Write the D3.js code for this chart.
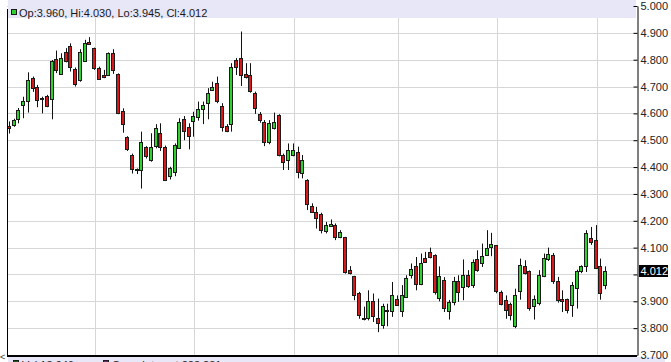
<!DOCTYPE html>
<html>
<head>
<meta charset="utf-8">
<script src="https://cdn.jsdelivr.net/npm/d3@7"></script>
<style>
  html, body { margin: 0; padding: 0; background: #fff; }
  svg { display: block; font-family: "Liberation Sans", Arial, sans-serif; }
</style>
</head>
<body>
<svg id="chart" width="671" height="362"></svg>
<script>
// daily candles, oldest first
var opens = [4.552,4.556,4.580,4.630,4.646,4.731,4.700,4.656,4.664,4.654,4.802,4.750,4.827,4.851,4.766,4.722,4.797,4.866,4.843,4.768,
  4.742,4.743,4.824,4.747,4.609,4.511,4.445,4.393,4.386,4.473,4.426,4.476,4.526,4.476,4.364,4.385,4.473,4.578,4.550,4.572,
  4.585,4.615,4.638,4.690,4.712,4.628,4.553,4.560,4.799,4.806,4.747,4.743,4.675,4.597,4.567,4.491,4.548,4.594,4.445,4.426,
  4.445,4.455,4.377,4.351,4.254,4.233,4.224,4.165,4.181,4.184,4.140,4.140,4.018,3.993,3.930,3.838,3.839,3.900,3.839,3.813,
  3.866,3.864,3.907,3.866,3.919,3.997,4.030,3.966,4.063,4.082,4.072,3.913,3.981,3.866,3.898,3.976,3.954,3.997,3.960,4.059,
  4.044,4.075,4.103,4.108,3.935,3.904,3.889,3.808,3.940,4.030,4.012,3.885,3.891,3.997,4.055,4.072,3.975,3.907,3.907,3.885,
  3.947,4.012,4.030,4.134,4.130,4.030,3.960];
var highs = [4.570,4.580,4.620,4.662,4.753,4.737,4.706,4.662,4.669,4.799,4.834,4.824,4.843,4.861,4.771,4.839,4.874,4.884,4.845,4.774,
  4.762,4.827,4.839,4.749,4.619,4.515,4.450,4.395,4.532,4.478,4.526,4.560,4.563,4.480,4.401,4.488,4.582,4.590,4.563,4.606,
  4.644,4.644,4.694,4.718,4.737,4.638,4.560,4.787,4.806,4.905,4.787,4.787,4.681,4.605,4.575,4.575,4.603,4.597,4.450,4.488,
  4.488,4.476,4.445,4.355,4.265,4.252,4.230,4.196,4.205,4.190,4.165,4.140,4.031,3.995,3.935,3.880,3.941,3.929,3.910,3.891,
  3.891,3.972,3.922,3.960,3.997,4.041,4.065,4.078,4.084,4.100,4.075,4.030,3.990,3.905,3.991,3.997,4.056,4.016,4.056,4.090,
  4.115,4.165,4.155,4.110,3.940,3.922,3.895,3.947,4.059,4.053,4.015,3.922,4.016,4.078,4.100,4.080,3.991,3.941,3.910,3.972,
  4.018,4.034,4.165,4.177,4.184,4.059,4.030];
var lows = [4.525,4.550,4.563,4.582,4.603,4.680,4.623,4.600,4.623,4.578,4.750,4.747,4.790,4.756,4.700,4.718,4.793,4.855,4.762,4.725,
  4.731,4.742,4.747,4.597,4.528,4.460,4.376,4.374,4.320,4.432,4.420,4.470,4.460,4.348,4.354,4.366,4.470,4.500,4.466,4.513,
  4.573,4.560,4.578,4.688,4.638,4.532,4.530,4.532,4.743,4.702,4.730,4.677,4.598,4.565,4.478,4.485,4.540,4.440,4.389,4.389,
  4.440,4.358,4.358,4.240,4.230,4.171,4.153,4.153,4.178,4.128,4.135,4.003,4.000,3.904,3.835,3.829,3.829,3.823,3.785,3.798,
  3.807,3.842,3.885,3.842,3.915,3.985,3.941,3.960,4.045,4.060,3.925,3.900,3.860,3.832,3.885,3.898,3.904,3.950,3.950,4.010,
  4.028,4.070,4.068,3.930,3.885,3.835,3.829,3.800,3.906,4.000,3.865,3.832,3.885,3.990,4.050,3.965,3.895,3.860,3.855,3.842,
  3.873,4.005,4.009,4.110,4.020,3.906,3.945];
var closes = [4.545,4.575,4.612,4.646,4.724,4.694,4.650,4.652,4.628,4.794,4.762,4.808,4.793,4.773,4.710,4.827,4.864,4.860,4.768,4.727,
  4.736,4.824,4.762,4.600,4.560,4.466,4.391,4.390,4.492,4.441,4.476,4.544,4.472,4.354,4.395,4.484,4.569,4.532,4.517,4.592,
  4.615,4.630,4.675,4.700,4.646,4.548,4.535,4.772,4.772,4.743,4.735,4.685,4.619,4.573,4.494,4.563,4.569,4.445,4.420,4.463,
  4.463,4.379,4.426,4.262,4.233,4.209,4.165,4.186,4.187,4.138,4.160,4.009,4.006,3.922,3.848,3.835,3.901,3.844,3.819,3.882,
  3.861,3.925,3.885,3.925,3.988,4.021,3.962,4.043,4.047,4.065,3.935,3.994,3.877,3.898,3.976,3.935,3.997,3.956,4.047,4.018,
  4.069,4.100,4.114,3.935,3.891,3.866,3.848,3.925,4.037,4.003,3.873,3.910,3.997,4.063,4.075,3.975,3.904,3.901,3.866,3.960,
  4.012,4.030,4.153,4.119,4.026,3.929,4.012];

// price axis levels and the candles where a new month starts
var yTicks = [3.7,3.8,3.9,4.0,4.1,4.2,4.3,4.4,4.5,4.6,4.7,4.8,4.9,5.0];
var monthStarts = [18, 39, 60, 82, 103, 124];

var footerItems = [
  { label: "Vol:13,946", color: "#1e5a1e" },
  { label: "Open Interest:223,231", color: "#6a2a7a" }
];

var GREEN = "#2fd12f", RED = "#d8191b", OUTLINE = "#1b1b1b";
var left = 7, right = 637;

var svg = d3.select("#chart");

var x = d3.scaleLinear().domain([0, opens.length - 1]).range([9, 605]);
var y = d3.scaleLinear().domain([3.7, 5.0]).range([355, 6]);

//grid
svg.append("g").selectAll("line")
    .data(yTicks).enter()
    .append("line")
    .attr("x1", left).attr("x2", right)
    .attr("y1", function (d) { return Math.round(y(d)) + 0.5; })
    .attr("y2", function (d) { return Math.round(y(d)) + 0.5; })
    .attr("stroke", "#d6d6d6");

svg.append("g").selectAll("line")
    .data(monthStarts).enter()
    .append("line")
    .attr("x1", function (d) { return Math.round(x(d)) + 1.5; })
    .attr("x2", function (d) { return Math.round(x(d)) + 1.5; })
    .attr("y1", 0).attr("y2", 355)
    .attr("stroke", "#d6d6d6");

//candles
var idx = d3.range(opens.length);
var candles = svg.append("g").selectAll("g")
    .data(idx).enter()
    .append("g");

candles.append("line")
    .attr("x1", function (i) { return Math.round(x(i)) + 0.5; })
    .attr("x2", function (i) { return Math.round(x(i)) + 0.5; })
    .attr("y1", function (i) { return y(highs[i]); })
    .attr("y2", function (i) { return y(lows[i]); })
    .attr("stroke", "#111");

candles.append("rect")
    .attr("x", function (i) { return Math.round(x(i)) - 1.5; })
    .attr("width", 3)
    .attr("y", function (i) { return Math.round(y(Math.max(opens[i], closes[i]))) + 0.5; })
    .attr("height", function (i) {
        return Math.max(1, Math.round(y(Math.min(opens[i], closes[i])) - y(Math.max(opens[i], closes[i]))));
    })
    .attr("fill", function (i) { return closes[i] >= opens[i] ? GREEN : RED; })
    .attr("stroke", OUTLINE);

//header band with last candle values
var last = opens.length - 1;
svg.append("rect")
    .attr("x", left + 1).attr("y", 0)
    .attr("width", right - left - 2).attr("height", 18)
    .attr("fill", "#e7e7f8");
svg.append("rect")
    .attr("x", 11.5).attr("y", 9.5).attr("width", 5).attr("height", 5)
    .attr("fill", GREEN).attr("stroke", OUTLINE);
var f3 = d3.format(".3f");
svg.append("text")
    .attr("x", 19).attr("y", 16.5)
    .attr("font-size", 11).attr("fill", "#1a1a1a")
    .text("Op:" + f3(opens[last]) + ", Hi:" + f3(highs[last]) + ", Lo:" + f3(lows[last]) + ", Cl:" + f3(closes[last]));

//frame
svg.append("line")
    .attr("x1", left + 0.5).attr("x2", left + 0.5)
    .attr("y1", 9).attr("y2", 356)
    .attr("stroke", "#000");
svg.append("line")
    .attr("x1", left).attr("x2", right)
    .attr("y1", 356).attr("y2", 356)
    .attr("stroke", "#000").attr("stroke-width", 2);

//footer band (mostly cut off by the window)
svg.append("rect")
    .attr("x", left + 1).attr("y", 357)
    .attr("width", 664 - left).attr("height", 5)
    .attr("fill", "#e7e7f8");
var foot = svg.append("g").selectAll("g")
    .data(footerItems).enter()
    .append("g")
    .attr("transform", function (d, i) { return "translate(" + (13 + i * 90) + ",0)"; });
foot.append("rect")
    .attr("x", 0.5).attr("y", 360.5).attr("width", 5).attr("height", 5)
    .attr("fill", function (d) { return d.color; })
    .attr("stroke", OUTLINE);
foot.append("text")
    .attr("x", 9).attr("y", 369)
    .attr("font-size", 11).attr("fill", "#1a1a1a")
    .text(function (d) { return d.label; });

svg.append("text")
    .attr("x", 0).attr("y", 360)
    .attr("font-size", 9).attr("fill", "#333")
    .text("<");

//price axis
var yAxis = d3.axisRight(y)
    .tickValues(yTicks)
    .tickSize(-4)
    .tickSizeOuter(0)
    .tickPadding(3)
    .tickFormat(function (d) {
        return Math.abs(d - closes[last]) < 0.03 ? "" : f3(d);
    });

var axisG = svg.append("g")
    .attr("transform", "translate(" + (right + 0.5) + ",0)")
    .call(yAxis);
axisG.select(".domain").attr("stroke", "#000");
axisG.selectAll(".tick line").attr("stroke", "#000");
axisG.selectAll(".tick text")
    .attr("font-size", 11)
    .attr("font-family", "Liberation Sans, Arial, sans-serif")
    .attr("fill", "#222");

//last price marker
var lastY = Math.round(y(closes[last]));
svg.append("rect")
    .attr("x", 639).attr("y", lastY - 6)
    .attr("width", 29).attr("height", 12)
    .attr("fill", "#000");
svg.append("text")
    .attr("x", 640.5).attr("y", lastY + 4)
    .attr("font-size", 11).attr("fill", "#fff")
    .text(f3(closes[last]));
</script>
</body>
</html>
